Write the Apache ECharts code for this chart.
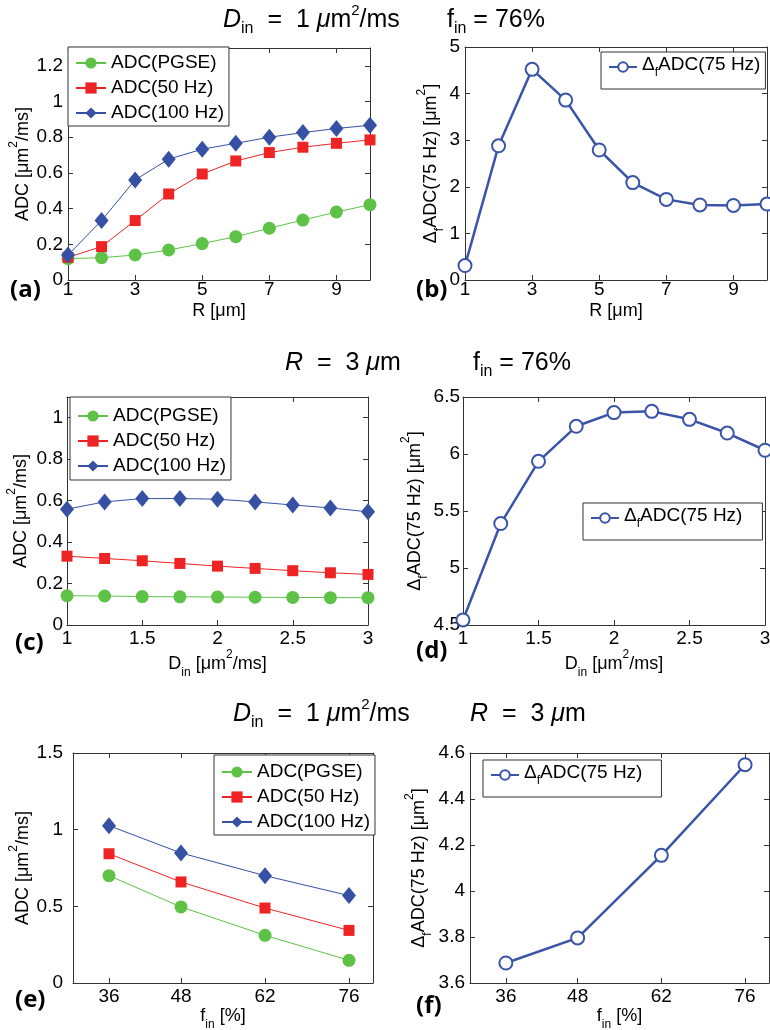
<!DOCTYPE html>
<html>
<head>
<meta charset="utf-8">
<script src="https://cdn.jsdelivr.net/npm/echarts@6/dist/echarts.min.js"></script>
<style>
  html, body { margin: 0; padding: 0; background: #fff; }
  #main { width: 770px; height: 1030px; }
</style>
</head>
<body>
<div id="main"></div>
<script>
// ---- data ----
var rVals = [1, 2, 3, 4, 5, 6, 7, 8, 9, 10];
var adcPgseByR = [0.12, 0.125, 0.14, 0.168, 0.204, 0.243, 0.29, 0.336, 0.381, 0.422];
var adc50ByR = [0.127, 0.187, 0.333, 0.482, 0.594, 0.667, 0.714, 0.744, 0.766, 0.785];
var adc100ByR = [0.14, 0.333, 0.561, 0.677, 0.733, 0.766, 0.8, 0.826, 0.849, 0.867];
var dfAdcByR = [0.31, 2.88, 4.52, 3.86, 2.79, 2.09, 1.73, 1.61, 1.6, 1.63];

var dinVals = [1, 1.25, 1.5, 1.75, 2, 2.25, 2.5, 2.75, 3];
var adcPgseByD = [0.141, 0.14, 0.137, 0.136, 0.135, 0.134, 0.133, 0.132, 0.132];
var adc50ByD = [0.332, 0.321, 0.31, 0.297, 0.284, 0.273, 0.262, 0.252, 0.244];
var adc100ByD = [0.559, 0.594, 0.61, 0.61, 0.607, 0.594, 0.579, 0.565, 0.546];
var dfAdcByD = [4.544, 5.39, 5.936, 6.243, 6.363, 6.374, 6.304, 6.184, 6.033];

var finVals = [36, 48, 62, 76];
var adcPgseByF = [0.7, 0.496, 0.311, 0.148];
var adc50ByF = [0.843, 0.659, 0.489, 0.343];
var adc100ByF = [1.026, 0.848, 0.7, 0.57];
var dfAdcByF = [3.687, 3.796, 4.155, 4.549];

// tick labels
var rTicks = [1, 3, 5, 7, 9];
var dinTicks = [1, 1.5, 2, 2.5, 3];
var finTicks = [36, 48, 62, 76];
var adcTicksA = [0, 0.2, 0.4, 0.6, 0.8, 1, 1.2];
var dfTicksB = [0, 1, 2, 3, 4, 5];
var adcTicksC = [0, 0.2, 0.4, 0.6, 0.8, 1];
var dfTicksD = [4.5, 5, 5.5, 6, 6.5];
var adcTicksE = [0, 0.5, 1, 1.5];
var dfTicksF = [3.6, 3.8, 4, 4.2, 4.4, 4.6];

var nameAdc = ['ADC(PGSE)', 'ADC(50 Hz)', 'ADC(100 Hz)'];
var nameDf = 'ΔfADC(75 Hz)';

// ---- styling ----
var fontFam = '"Liberation Sans", Arial, Helvetica, sans-serif';
var green = '#5ec247';
var red = '#ee2424';
var blue = '#3651a3';
var dfBlue = '#3a54a8';
var axisColor = '#333';

var richText = {
  t: { fontSize: 18, fontFamily: fontFam, color: '#000', lineHeight: 30, verticalAlign: 'middle' },
  sup: { fontSize: 12, fontFamily: fontFam, color: '#000', lineHeight: 18, verticalAlign: 'top' },
  sub: { fontSize: 12, fontFamily: fontFam, color: '#000', lineHeight: 18, verticalAlign: 'bottom' }
};

var titleRich = {
  n: { fontSize: 25, fontWeight: 'normal', fontFamily: fontFam, color: '#000', lineHeight: 34, verticalAlign: 'middle' },
  i: { fontSize: 25, fontWeight: 'normal', fontFamily: fontFam, fontStyle: 'italic', color: '#000', lineHeight: 34, verticalAlign: 'middle' },
  sup: { fontSize: 15, fontWeight: 'normal', fontFamily: fontFam, color: '#000', lineHeight: 22, verticalAlign: 'top' },
  sub: { fontSize: 16, fontWeight: 'normal', fontFamily: fontFam, color: '#000', lineHeight: 22, verticalAlign: 'bottom' }
};

var grids = [], xAxes = [], yAxes = [], series = [], legends = [];

function pairs(xs, ys) {
  return xs.map(function (x, i) { return [x, ys[i]]; });
}

function fmt(v) { return String(v); }

function addPanel(p) {
  var gi = grids.length;
  grids.push({ left: p.left, top: p.top, width: p.width, height: p.height, outerBoundsMode: 'none', containLabel: false });
  var tickStyle = { show: true, inside: true, length: 5, lineStyle: { color: axisColor, width: 1 } };
  var lineStyle = { show: true, onZero: false, lineStyle: { color: axisColor, width: 1 } };
  // bottom and top x axes
  xAxes.push({
    type: 'value', gridIndex: gi, position: 'bottom', min: p.x.min, max: p.x.max,
    axisLine: lineStyle,
    axisTick: Object.assign({ customValues: p.x.ticks }, tickStyle),
    axisLabel: { customValues: p.x.ticks, formatter: fmt, margin: p.x.margin, fontSize: 19, fontFamily: fontFam, color: '#000' },
    splitLine: { show: false },
    name: p.x.name, nameLocation: 'middle', nameGap: p.x.gap,
    nameTextStyle: { rich: richText }
  });
  xAxes.push({
    type: 'value', gridIndex: gi, position: 'top', min: p.x.min, max: p.x.max,
    axisLine: lineStyle,
    axisTick: Object.assign({ customValues: p.x.ticks }, tickStyle),
    axisLabel: { show: false },
    splitLine: { show: false }
  });
  yAxes.push({
    type: 'value', gridIndex: gi, position: 'left', min: p.y.min, max: p.y.max,
    axisLine: lineStyle,
    axisTick: Object.assign({ customValues: p.y.ticks }, tickStyle),
    axisLabel: { customValues: p.y.ticks, formatter: fmt, margin: p.y.margin, fontSize: 19, fontFamily: fontFam, color: '#000' },
    splitLine: { show: false },
    name: p.y.name, nameLocation: 'middle', nameGap: p.y.gap,
    nameTextStyle: { rich: richText }
  });
  yAxes.push({
    type: 'value', gridIndex: gi, position: 'right', min: p.y.min, max: p.y.max,
    axisLine: lineStyle,
    axisTick: Object.assign({ customValues: p.y.ticks }, tickStyle),
    axisLabel: { show: false },
    splitLine: { show: false }
  });
  return gi * 2;
}

function adcSeries(ai, xs, pgse, a50, a100) {
  series.push({
    name: nameAdc[0], type: 'line', xAxisIndex: ai, yAxisIndex: ai,
    data: pairs(xs, pgse), symbol: 'circle', symbolSize: 13,
    itemStyle: { color: green }, lineStyle: { color: green, width: 1 }
  });
  series.push({
    name: nameAdc[1], type: 'line', xAxisIndex: ai, yAxisIndex: ai,
    data: pairs(xs, a50), symbol: 'rect', symbolSize: 11,
    itemStyle: { color: red }, lineStyle: { color: red, width: 1 }
  });
  series.push({
    name: nameAdc[2], type: 'line', xAxisIndex: ai, yAxisIndex: ai,
    data: pairs(xs, a100), symbol: 'diamond', symbolSize: [14, 17],
    itemStyle: { color: blue }, lineStyle: { color: blue, width: 1 }
  });
}

function dfSeries(ai, xs, ys) {
  series.push({
    name: nameDf, type: 'line', xAxisIndex: ai, yAxisIndex: ai,
    data: pairs(xs, ys), symbol: 'emptyCircle', symbolSize: 13,
    itemStyle: { color: dfBlue, borderWidth: 2.2 }, lineStyle: { color: dfBlue, width: 2.5 }
  });
}

function adcLegend(left, top, pad) {
  legends.push({
    data: nameAdc, orient: 'vertical', left: left, top: top, padding: pad,
    itemWidth: 30, itemHeight: 14, itemGap: 5,
    borderColor: axisColor, borderWidth: 1, backgroundColor: '#fff',
    textStyle: { fontSize: 19, fontFamily: fontFam, color: '#000', lineHeight: 20 },
    selectedMode: false
  });
}

function dfLegend(left, top, pad) {
  legends.push({
    data: [nameDf], orient: 'vertical', left: left, top: top, padding: pad,
    itemWidth: 28, itemHeight: 12,
    borderColor: axisColor, borderWidth: 1, backgroundColor: '#fff',
    formatter: function () { return '{t|Δ}{sub|f}{t|ADC(75 Hz)}'; },
    textStyle: {
      rich: {
        t: { fontSize: 19, fontFamily: fontFam, color: '#000', lineHeight: 24, verticalAlign: 'top' },
        sub: { fontSize: 12, fontFamily: fontFam, color: '#000', lineHeight: 14, verticalAlign: 'bottom' }
      }
    },
    selectedMode: false
  });
}

var yAdcName = '{t|ADC [μm}{sup|2}{t|/ms]}';
var yDfName = '{t|Δ}{sub|f}{t|ADC(75 Hz) [μm}{sup|2}{t|]}';

// (a)
var ax = addPanel({
  left: 68, top: 48, width: 302, height: 232,
  x: { min: 1, max: 10, ticks: rTicks, name: '{t|R [μm]}', gap: 16, margin: 0 },
  y: { min: 0, max: 1.3, ticks: adcTicksA, name: yAdcName, gap: 30, margin: 5 }
});
adcSeries(ax, rVals, adcPgseByR, adc50ByR, adc100ByR);
adcLegend(68, 47, [6, 5, 3, 7]);

// (b)
ax = addPanel({
  left: 465, top: 47, width: 302, height: 233,
  x: { min: 1, max: 10, ticks: rTicks, name: '{t|R [μm]}', gap: 16, margin: 0 },
  y: { min: 0, max: 5, ticks: dfTicksB, name: yDfName, gap: 18, margin: 5 }
});
dfSeries(ax, rVals, dfAdcByR);
dfLegend(601, 52, [3, 5, 10, 7]);

// (c)
ax = addPanel({
  left: 67, top: 397, width: 301, height: 228,
  x: { min: 1, max: 3, ticks: dinTicks, name: '{t|D}{sub|in}{t| [μm}{sup|2}{t|/ms]}', gap: 10, margin: 4 },
  y: { min: 0, max: 1.1, ticks: adcTicksC, name: yAdcName, gap: 31, margin: 4 }
});
adcSeries(ax, dinVals, adcPgseByD, adc50ByD, adc100ByD);
adcLegend(70, 397, [9, 5, 4, 7]);

// (d)
ax = addPanel({
  left: 463, top: 397, width: 302, height: 228,
  x: { min: 1, max: 3, ticks: dinTicks, name: '{t|D}{sub|in}{t| [μm}{sup|2}{t|/ms]}', gap: 10, margin: 4 },
  y: { min: 4.5, max: 6.5, ticks: dfTicksD, name: yDfName, gap: 33, margin: 3 }
});
dfSeries(ax, dinVals, dfAdcByD);
dfLegend(583, 503, [3, 20, 10, 7]);

// (e)
ax = addPanel({
  left: 73, top: 753, width: 300, height: 230,
  x: { min: 30, max: 80, ticks: finTicks, name: '{t|f}{sub|in}{t| [%]}', gap: 5, margin: 4 },
  y: { min: 0, max: 1.5, ticks: adcTicksE, name: yAdcName, gap: 35, margin: 10 }
});
adcSeries(ax, finVals, adcPgseByF, adc50ByF, adc100ByF);
adcLegend(214, 755, [7, 5, 3, 7]);

// (f)
ax = addPanel({
  left: 470, top: 753, width: 299, height: 230,
  x: { min: 30, max: 80, ticks: finTicks, name: '{t|f}{sub|in}{t| [%]}', gap: 5, margin: 4 },
  y: { min: 3.6, max: 4.6, ticks: dfTicksF, name: yDfName, gap: 36, margin: 5 }
});
dfSeries(ax, finVals, dfAdcByF);
dfLegend(483, 760, [3, 19, 10, 7]);

function titleAt(text, left, top) {
  return { text: text, left: left, top: top, padding: 0, textStyle: { fontWeight: 'normal', rich: titleRich } };
}

var titles = [
  titleAt('{i|D}{sub|in}{n|  =  1 }{i|μ}{n|m}{sup|2}{n|/ms}', 223, 3),
  titleAt('{n|f}{sub|in}{n| = 76%}', 447, 3),
  titleAt('{i|R}{n|  =  3 }{i|μ}{n|m}', 285, 346),
  titleAt('{n|f}{sub|in}{n| = 76%}', 473, 346),
  titleAt('{i|D}{sub|in}{n|  =  1 }{i|μ}{n|m}{sup|2}{n|/ms}', 233, 697),
  titleAt('{i|R}{n|  =  3 }{i|μ}{n|m}', 470, 697)
];

function panelLabel(text, left, top) {
  return {
    type: 'text', left: left, top: top,
    style: { text: text, fontSize: 24, fontWeight: 'bold', fontFamily: '"Open Sans", "DejaVu Sans", sans-serif', fill: '#000' }
  };
}

var myChart = echarts.init(document.getElementById('main'), null, { renderer: 'canvas' });

var option = {
  backgroundColor: '#fff',
  animation: false,
  title: titles,
  legend: legends,
  grid: grids,
  xAxis: xAxes,
  yAxis: yAxes,
  series: series,
  graphic: [
    panelLabel('(a)', 10, 278),
    panelLabel('(b)', 416, 278),
    panelLabel('(c)', 15, 631),
    panelLabel('(d)', 416, 639),
    panelLabel('(e)', 15, 988),
    panelLabel('(f)', 416, 994)
  ]
};

myChart.setOption(option);
</script>
</body>
</html>
